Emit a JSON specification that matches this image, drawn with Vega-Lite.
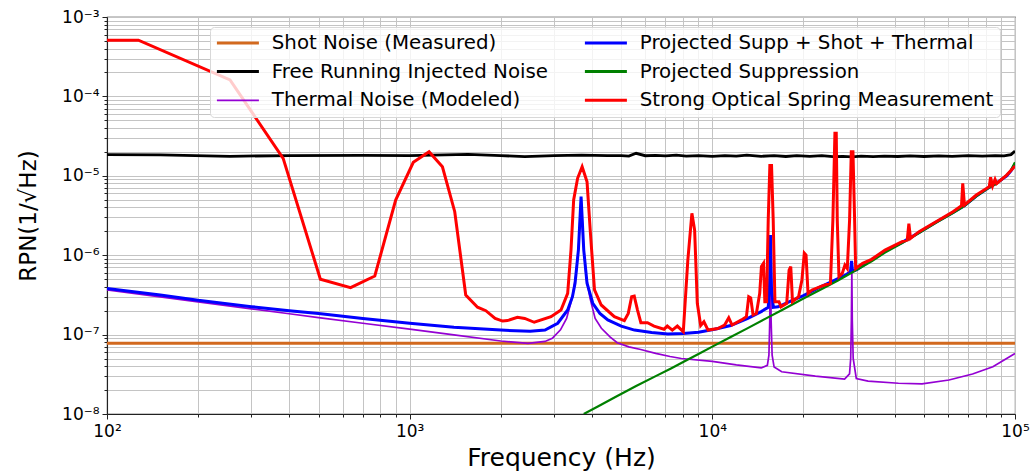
{
  "$schema": "https://vega.github.io/schema/vega-lite/v6.json",
  "width": 908,
  "height": 397,
  "autosize": {"type": "none"},
  "padding": {"left": 107, "top": 17, "right": 17, "bottom": 59},
  "background": "white",
  "config": {"font": "DejaVu Sans", "view": {"stroke": "#222", "strokeWidth": 1.1}},
  "data": {"values": [
    {"s": "Shot Noise (Measured)", "f": 100, "v": 7.8e-8},
    {"s": "Shot Noise (Measured)", "f": 100000, "v": 7.8e-8},

    {"s": "Free Running Injected Noise", "f": 100, "v": 1.85e-5},
    {"s": "Free Running Injected Noise", "f": 150, "v": 1.83e-5},
    {"s": "Free Running Injected Noise", "f": 255, "v": 1.76e-5},
    {"s": "Free Running Injected Noise", "f": 400, "v": 1.80e-5},
    {"s": "Free Running Injected Noise", "f": 700, "v": 1.81e-5},
    {"s": "Free Running Injected Noise", "f": 1000, "v": 1.79e-5},
    {"s": "Free Running Injected Noise", "f": 1560, "v": 1.86e-5},
    {"s": "Free Running Injected Noise", "f": 2000, "v": 1.80e-5},
    {"s": "Free Running Injected Noise", "f": 2400, "v": 1.74e-5},
    {"s": "Free Running Injected Noise", "f": 3000, "v": 1.80e-5},
    {"s": "Free Running Injected Noise", "f": 3700, "v": 1.82e-5},
    {"s": "Free Running Injected Noise", "f": 4500, "v": 1.79e-5},
    {"s": "Free Running Injected Noise", "f": 5000, "v": 1.80e-5},
    {"s": "Free Running Injected Noise", "f": 5300, "v": 1.77e-5},
    {"s": "Free Running Injected Noise", "f": 5600, "v": 1.92e-5},
    {"s": "Free Running Injected Noise", "f": 6000, "v": 1.79e-5},
    {"s": "Free Running Injected Noise", "f": 6500, "v": 1.81e-5},
    {"s": "Free Running Injected Noise", "f": 7000, "v": 1.78e-5},
    {"s": "Free Running Injected Noise", "f": 7600, "v": 1.82e-5},
    {"s": "Free Running Injected Noise", "f": 8200, "v": 1.77e-5},
    {"s": "Free Running Injected Noise", "f": 9000, "v": 1.80e-5},
    {"s": "Free Running Injected Noise", "f": 10000, "v": 1.76e-5},
    {"s": "Free Running Injected Noise", "f": 11000, "v": 1.80e-5},
    {"s": "Free Running Injected Noise", "f": 12000, "v": 1.77e-5},
    {"s": "Free Running Injected Noise", "f": 13000, "v": 1.82e-5},
    {"s": "Free Running Injected Noise", "f": 14500, "v": 1.76e-5},
    {"s": "Free Running Injected Noise", "f": 16000, "v": 1.80e-5},
    {"s": "Free Running Injected Noise", "f": 17500, "v": 1.75e-5},
    {"s": "Free Running Injected Noise", "f": 19000, "v": 1.79e-5},
    {"s": "Free Running Injected Noise", "f": 21000, "v": 1.76e-5},
    {"s": "Free Running Injected Noise", "f": 23000, "v": 1.79e-5},
    {"s": "Free Running Injected Noise", "f": 25000, "v": 1.74e-5},
    {"s": "Free Running Injected Noise", "f": 27000, "v": 1.76e-5},
    {"s": "Free Running Injected Noise", "f": 29000, "v": 1.73e-5},
    {"s": "Free Running Injected Noise", "f": 31000, "v": 1.77e-5},
    {"s": "Free Running Injected Noise", "f": 34000, "v": 1.74e-5},
    {"s": "Free Running Injected Noise", "f": 37000, "v": 1.77e-5},
    {"s": "Free Running Injected Noise", "f": 41000, "v": 1.75e-5},
    {"s": "Free Running Injected Noise", "f": 45000, "v": 1.78e-5},
    {"s": "Free Running Injected Noise", "f": 50000, "v": 1.75e-5},
    {"s": "Free Running Injected Noise", "f": 56000, "v": 1.78e-5},
    {"s": "Free Running Injected Noise", "f": 62000, "v": 1.76e-5},
    {"s": "Free Running Injected Noise", "f": 70000, "v": 1.79e-5},
    {"s": "Free Running Injected Noise", "f": 78000, "v": 1.77e-5},
    {"s": "Free Running Injected Noise", "f": 86000, "v": 1.80e-5},
    {"s": "Free Running Injected Noise", "f": 92000, "v": 1.78e-5},
    {"s": "Free Running Injected Noise", "f": 97000, "v": 1.85e-5},
    {"s": "Free Running Injected Noise", "f": 100000, "v": 2.05e-5},

    {"s": "Thermal Noise (Modeled)", "f": 100, "v": 3.65e-7},
    {"s": "Thermal Noise (Modeled)", "f": 150, "v": 2.98e-7},
    {"s": "Thermal Noise (Modeled)", "f": 200, "v": 2.58e-7},
    {"s": "Thermal Noise (Modeled)", "f": 300, "v": 2.11e-7},
    {"s": "Thermal Noise (Modeled)", "f": 400, "v": 1.83e-7},
    {"s": "Thermal Noise (Modeled)", "f": 500, "v": 1.64e-7},
    {"s": "Thermal Noise (Modeled)", "f": 700, "v": 1.39e-7},
    {"s": "Thermal Noise (Modeled)", "f": 1000, "v": 1.17e-7},
    {"s": "Thermal Noise (Modeled)", "f": 1400, "v": 9.9e-8},
    {"s": "Thermal Noise (Modeled)", "f": 2000, "v": 8.3e-8},
    {"s": "Thermal Noise (Modeled)", "f": 2460, "v": 7.75e-8},
    {"s": "Thermal Noise (Modeled)", "f": 2800, "v": 8.2e-8},
    {"s": "Thermal Noise (Modeled)", "f": 2960, "v": 9.0e-8},
    {"s": "Thermal Noise (Modeled)", "f": 3150, "v": 1.15e-7},
    {"s": "Thermal Noise (Modeled)", "f": 3300, "v": 1.6e-7},
    {"s": "Thermal Noise (Modeled)", "f": 3450, "v": 3.0e-7},
    {"s": "Thermal Noise (Modeled)", "f": 3550, "v": 6.0e-7},
    {"s": "Thermal Noise (Modeled)", "f": 3620, "v": 1.4e-6},
    {"s": "Thermal Noise (Modeled)", "f": 3684, "v": 5.4e-6},
    {"s": "Thermal Noise (Modeled)", "f": 3750, "v": 1.4e-6},
    {"s": "Thermal Noise (Modeled)", "f": 3830, "v": 5.2e-7},
    {"s": "Thermal Noise (Modeled)", "f": 3950, "v": 2.8e-7},
    {"s": "Thermal Noise (Modeled)", "f": 4100, "v": 1.6e-7},
    {"s": "Thermal Noise (Modeled)", "f": 4300, "v": 1.2e-7},
    {"s": "Thermal Noise (Modeled)", "f": 4600, "v": 9.3e-8},
    {"s": "Thermal Noise (Modeled)", "f": 4850, "v": 7.9e-8},
    {"s": "Thermal Noise (Modeled)", "f": 5300, "v": 7.0e-8},
    {"s": "Thermal Noise (Modeled)", "f": 5800, "v": 6.5e-8},
    {"s": "Thermal Noise (Modeled)", "f": 6500, "v": 5.8e-8},
    {"s": "Thermal Noise (Modeled)", "f": 7250, "v": 5.3e-8},
    {"s": "Thermal Noise (Modeled)", "f": 7900, "v": 5.0e-8},
    {"s": "Thermal Noise (Modeled)", "f": 10000, "v": 4.6e-8},
    {"s": "Thermal Noise (Modeled)", "f": 12000, "v": 4.15e-8},
    {"s": "Thermal Noise (Modeled)", "f": 14500, "v": 3.8e-8},
    {"s": "Thermal Noise (Modeled)", "f": 15200, "v": 4.1e-8},
    {"s": "Thermal Noise (Modeled)", "f": 15380, "v": 5.5e-8},
    {"s": "Thermal Noise (Modeled)", "f": 15480, "v": 1.5e-7},
    {"s": "Thermal Noise (Modeled)", "f": 15560, "v": 1.7e-6},
    {"s": "Thermal Noise (Modeled)", "f": 15640, "v": 1.5e-7},
    {"s": "Thermal Noise (Modeled)", "f": 15760, "v": 5.5e-8},
    {"s": "Thermal Noise (Modeled)", "f": 16000, "v": 3.9e-8},
    {"s": "Thermal Noise (Modeled)", "f": 16950, "v": 3.4e-8},
    {"s": "Thermal Noise (Modeled)", "f": 21900, "v": 3.0e-8},
    {"s": "Thermal Noise (Modeled)", "f": 27350, "v": 2.76e-8},
    {"s": "Thermal Noise (Modeled)", "f": 28400, "v": 3.2e-8},
    {"s": "Thermal Noise (Modeled)", "f": 28650, "v": 5.0e-8},
    {"s": "Thermal Noise (Modeled)", "f": 28800, "v": 1.5e-7},
    {"s": "Thermal Noise (Modeled)", "f": 28900, "v": 6.5e-7},
    {"s": "Thermal Noise (Modeled)", "f": 29000, "v": 1.5e-7},
    {"s": "Thermal Noise (Modeled)", "f": 29200, "v": 5.0e-8},
    {"s": "Thermal Noise (Modeled)", "f": 29900, "v": 2.8e-8},
    {"s": "Thermal Noise (Modeled)", "f": 32700, "v": 2.6e-8},
    {"s": "Thermal Noise (Modeled)", "f": 41200, "v": 2.44e-8},
    {"s": "Thermal Noise (Modeled)", "f": 49300, "v": 2.4e-8},
    {"s": "Thermal Noise (Modeled)", "f": 60500, "v": 2.68e-8},
    {"s": "Thermal Noise (Modeled)", "f": 72400, "v": 3.19e-8},
    {"s": "Thermal Noise (Modeled)", "f": 84500, "v": 3.94e-8},
    {"s": "Thermal Noise (Modeled)", "f": 100000, "v": 5.8e-8},

    {"s": "Projected Supp + Shot + Thermal", "f": 100, "v": 3.8e-7},
    {"s": "Projected Supp + Shot + Thermal", "f": 150, "v": 3.15e-7},
    {"s": "Projected Supp + Shot + Thermal", "f": 200, "v": 2.7e-7},
    {"s": "Projected Supp + Shot + Thermal", "f": 300, "v": 2.25e-7},
    {"s": "Projected Supp + Shot + Thermal", "f": 400, "v": 2.0e-7},
    {"s": "Projected Supp + Shot + Thermal", "f": 500, "v": 1.85e-7},
    {"s": "Projected Supp + Shot + Thermal", "f": 700, "v": 1.6e-7},
    {"s": "Projected Supp + Shot + Thermal", "f": 1000, "v": 1.39e-7},
    {"s": "Projected Supp + Shot + Thermal", "f": 1400, "v": 1.24e-7},
    {"s": "Projected Supp + Shot + Thermal", "f": 2000, "v": 1.14e-7},
    {"s": "Projected Supp + Shot + Thermal", "f": 2500, "v": 1.1e-7},
    {"s": "Projected Supp + Shot + Thermal", "f": 2800, "v": 1.14e-7},
    {"s": "Projected Supp + Shot + Thermal", "f": 3084, "v": 1.39e-7},
    {"s": "Projected Supp + Shot + Thermal", "f": 3327, "v": 2.04e-7},
    {"s": "Projected Supp + Shot + Thermal", "f": 3450, "v": 3.0e-7},
    {"s": "Projected Supp + Shot + Thermal", "f": 3519, "v": 4.43e-7},
    {"s": "Projected Supp + Shot + Thermal", "f": 3610, "v": 1.16e-6},
    {"s": "Projected Supp + Shot + Thermal", "f": 3684, "v": 5.46e-6},
    {"s": "Projected Supp + Shot + Thermal", "f": 3760, "v": 1.16e-6},
    {"s": "Projected Supp + Shot + Thermal", "f": 3855, "v": 4.43e-7},
    {"s": "Projected Supp + Shot + Thermal", "f": 4027, "v": 2.48e-7},
    {"s": "Projected Supp + Shot + Thermal", "f": 4250, "v": 1.85e-7},
    {"s": "Projected Supp + Shot + Thermal", "f": 4515, "v": 1.53e-7},
    {"s": "Projected Supp + Shot + Thermal", "f": 5000, "v": 1.28e-7},
    {"s": "Projected Supp + Shot + Thermal", "f": 5530, "v": 1.14e-7},
    {"s": "Projected Supp + Shot + Thermal", "f": 6300, "v": 1.06e-7},
    {"s": "Projected Supp + Shot + Thermal", "f": 7130, "v": 1.02e-7},
    {"s": "Projected Supp + Shot + Thermal", "f": 8000, "v": 1.03e-7},
    {"s": "Projected Supp + Shot + Thermal", "f": 9000, "v": 1.07e-7},
    {"s": "Projected Supp + Shot + Thermal", "f": 10180, "v": 1.17e-7},
    {"s": "Projected Supp + Shot + Thermal", "f": 11500, "v": 1.3e-7},
    {"s": "Projected Supp + Shot + Thermal", "f": 13100, "v": 1.6e-7},
    {"s": "Projected Supp + Shot + Thermal", "f": 14500, "v": 1.95e-7},
    {"s": "Projected Supp + Shot + Thermal", "f": 15300, "v": 2.2e-7},
    {"s": "Projected Supp + Shot + Thermal", "f": 15450, "v": 4.0e-7},
    {"s": "Projected Supp + Shot + Thermal", "f": 15560, "v": 1.8e-6},
    {"s": "Projected Supp + Shot + Thermal", "f": 15680, "v": 4.0e-7},
    {"s": "Projected Supp + Shot + Thermal", "f": 15900, "v": 2.2e-7},
    {"s": "Projected Supp + Shot + Thermal", "f": 16490, "v": 2.24e-7},
    {"s": "Projected Supp + Shot + Thermal", "f": 18000, "v": 2.6e-7},
    {"s": "Projected Supp + Shot + Thermal", "f": 20000, "v": 3.1e-7},
    {"s": "Projected Supp + Shot + Thermal", "f": 22500, "v": 3.9e-7},
    {"s": "Projected Supp + Shot + Thermal", "f": 25000, "v": 4.7e-7},
    {"s": "Projected Supp + Shot + Thermal", "f": 27500, "v": 5.6e-7},
    {"s": "Projected Supp + Shot + Thermal", "f": 28600, "v": 6.2e-7},
    {"s": "Projected Supp + Shot + Thermal", "f": 28850, "v": 8.5e-7},
    {"s": "Projected Supp + Shot + Thermal", "f": 29050, "v": 6.3e-7},
    {"s": "Projected Supp + Shot + Thermal", "f": 30000, "v": 6.6e-7},
    {"s": "Projected Supp + Shot + Thermal", "f": 33600, "v": 8.7e-7},
    {"s": "Projected Supp + Shot + Thermal", "f": 37200, "v": 1.12e-6},
    {"s": "Projected Supp + Shot + Thermal", "f": 42400, "v": 1.45e-6},
    {"s": "Projected Supp + Shot + Thermal", "f": 48200, "v": 1.93e-6},
    {"s": "Projected Supp + Shot + Thermal", "f": 54800, "v": 2.6e-6},
    {"s": "Projected Supp + Shot + Thermal", "f": 62400, "v": 3.45e-6},
    {"s": "Projected Supp + Shot + Thermal", "f": 68000, "v": 4.2e-6},
    {"s": "Projected Supp + Shot + Thermal", "f": 74500, "v": 5.55e-6},
    {"s": "Projected Supp + Shot + Thermal", "f": 82200, "v": 7.15e-6},
    {"s": "Projected Supp + Shot + Thermal", "f": 87000, "v": 8.1e-6},
    {"s": "Projected Supp + Shot + Thermal", "f": 93900, "v": 1.0e-5},
    {"s": "Projected Supp + Shot + Thermal", "f": 97000, "v": 1.15e-5},
    {"s": "Projected Supp + Shot + Thermal", "f": 100000, "v": 1.4e-5},

    {"s": "Projected Suppression", "f": 3760, "v": 1.0e-8},
    {"s": "Projected Suppression", "f": 4200, "v": 1.25e-8},
    {"s": "Projected Suppression", "f": 4800, "v": 1.65e-8},
    {"s": "Projected Suppression", "f": 5600, "v": 2.25e-8},
    {"s": "Projected Suppression", "f": 6500, "v": 3.0e-8},
    {"s": "Projected Suppression", "f": 7300, "v": 3.75e-8},
    {"s": "Projected Suppression", "f": 8040, "v": 4.55e-8},
    {"s": "Projected Suppression", "f": 9000, "v": 5.7e-8},
    {"s": "Projected Suppression", "f": 10000, "v": 7.06e-8},
    {"s": "Projected Suppression", "f": 11500, "v": 9.3e-8},
    {"s": "Projected Suppression", "f": 13000, "v": 1.19e-7},
    {"s": "Projected Suppression", "f": 15000, "v": 1.59e-7},
    {"s": "Projected Suppression", "f": 17000, "v": 2.04e-7},
    {"s": "Projected Suppression", "f": 20000, "v": 2.85e-7},
    {"s": "Projected Suppression", "f": 23000, "v": 3.75e-7},
    {"s": "Projected Suppression", "f": 26000, "v": 4.8e-7},
    {"s": "Projected Suppression", "f": 28840, "v": 6.0e-7},
    {"s": "Projected Suppression", "f": 33600, "v": 8.4e-7},
    {"s": "Projected Suppression", "f": 37200, "v": 1.08e-6},
    {"s": "Projected Suppression", "f": 42400, "v": 1.42e-6},
    {"s": "Projected Suppression", "f": 48200, "v": 1.9e-6},
    {"s": "Projected Suppression", "f": 54800, "v": 2.55e-6},
    {"s": "Projected Suppression", "f": 62400, "v": 3.4e-6},
    {"s": "Projected Suppression", "f": 68000, "v": 4.15e-6},
    {"s": "Projected Suppression", "f": 74500, "v": 5.5e-6},
    {"s": "Projected Suppression", "f": 82200, "v": 7.1e-6},
    {"s": "Projected Suppression", "f": 87000, "v": 8.0e-6},
    {"s": "Projected Suppression", "f": 93900, "v": 1.02e-5},
    {"s": "Projected Suppression", "f": 97000, "v": 1.18e-5},
    {"s": "Projected Suppression", "f": 100000, "v": 1.48e-5},

    {"s": "Strong Optical Spring Measurement", "f": 100, "v": 5.1e-4},
    {"s": "Strong Optical Spring Measurement", "f": 127, "v": 5.1e-4},
    {"s": "Strong Optical Spring Measurement", "f": 255, "v": 1.61e-4},
    {"s": "Strong Optical Spring Measurement", "f": 382, "v": 1.66e-5},
    {"s": "Strong Optical Spring Measurement", "f": 507, "v": 4.98e-7},
    {"s": "Strong Optical Spring Measurement", "f": 638, "v": 3.9e-7},
    {"s": "Strong Optical Spring Measurement", "f": 767, "v": 5.47e-7},
    {"s": "Strong Optical Spring Measurement", "f": 899, "v": 4.95e-6},
    {"s": "Strong Optical Spring Measurement", "f": 1028, "v": 1.48e-5},
    {"s": "Strong Optical Spring Measurement", "f": 1159, "v": 2.01e-5},
    {"s": "Strong Optical Spring Measurement", "f": 1283, "v": 1.30e-5},
    {"s": "Strong Optical Spring Measurement", "f": 1409, "v": 3.53e-6},
    {"s": "Strong Optical Spring Measurement", "f": 1532, "v": 3.15e-7},
    {"s": "Strong Optical Spring Measurement", "f": 1676, "v": 2.21e-7},
    {"s": "Strong Optical Spring Measurement", "f": 1785, "v": 2.0e-7},
    {"s": "Strong Optical Spring Measurement", "f": 1916, "v": 1.6e-7},
    {"s": "Strong Optical Spring Measurement", "f": 2028, "v": 1.48e-7},
    {"s": "Strong Optical Spring Measurement", "f": 2104, "v": 1.5e-7},
    {"s": "Strong Optical Spring Measurement", "f": 2270, "v": 1.65e-7},
    {"s": "Strong Optical Spring Measurement", "f": 2400, "v": 1.6e-7},
    {"s": "Strong Optical Spring Measurement", "f": 2580, "v": 1.43e-7},
    {"s": "Strong Optical Spring Measurement", "f": 2931, "v": 1.68e-7},
    {"s": "Strong Optical Spring Measurement", "f": 3162, "v": 2.04e-7},
    {"s": "Strong Optical Spring Measurement", "f": 3327, "v": 3.31e-7},
    {"s": "Strong Optical Spring Measurement", "f": 3412, "v": 1.16e-6},
    {"s": "Strong Optical Spring Measurement", "f": 3482, "v": 4.96e-6},
    {"s": "Strong Optical Spring Measurement", "f": 3588, "v": 9.3e-6},
    {"s": "Strong Optical Spring Measurement", "f": 3714, "v": 1.3e-5},
    {"s": "Strong Optical Spring Measurement", "f": 3855, "v": 8.4e-6},
    {"s": "Strong Optical Spring Measurement", "f": 3956, "v": 1.89e-6},
    {"s": "Strong Optical Spring Measurement", "f": 4080, "v": 3.65e-7},
    {"s": "Strong Optical Spring Measurement", "f": 4294, "v": 2.36e-7},
    {"s": "Strong Optical Spring Measurement", "f": 4745, "v": 1.68e-7},
    {"s": "Strong Optical Spring Measurement", "f": 5120, "v": 1.5e-7},
    {"s": "Strong Optical Spring Measurement", "f": 5275, "v": 1.85e-7},
    {"s": "Strong Optical Spring Measurement", "f": 5413, "v": 3.0e-7},
    {"s": "Strong Optical Spring Measurement", "f": 5520, "v": 3.05e-7},
    {"s": "Strong Optical Spring Measurement", "f": 5660, "v": 2.04e-7},
    {"s": "Strong Optical Spring Measurement", "f": 5806, "v": 1.41e-7},
    {"s": "Strong Optical Spring Measurement", "f": 6106, "v": 1.41e-7},
    {"s": "Strong Optical Spring Measurement", "f": 6417, "v": 1.28e-7},
    {"s": "Strong Optical Spring Measurement", "f": 6924, "v": 1.17e-7},
    {"s": "Strong Optical Spring Measurement", "f": 7100, "v": 1.28e-7},
    {"s": "Strong Optical Spring Measurement", "f": 7376, "v": 1.14e-7},
    {"s": "Strong Optical Spring Measurement", "f": 7663, "v": 1.28e-7},
    {"s": "Strong Optical Spring Measurement", "f": 8018, "v": 1.09e-7},
    {"s": "Strong Optical Spring Measurement", "f": 8300, "v": 8.7e-7},
    {"s": "Strong Optical Spring Measurement", "f": 8560, "v": 3.37e-6},
    {"s": "Strong Optical Spring Measurement", "f": 8740, "v": 2.07e-6},
    {"s": "Strong Optical Spring Measurement", "f": 8920, "v": 2.48e-7},
    {"s": "Strong Optical Spring Measurement", "f": 9150, "v": 1.3e-7},
    {"s": "Strong Optical Spring Measurement", "f": 9380, "v": 1.45e-7},
    {"s": "Strong Optical Spring Measurement", "f": 9680, "v": 1.14e-7},
    {"s": "Strong Optical Spring Measurement", "f": 10430, "v": 1.19e-7},
    {"s": "Strong Optical Spring Measurement", "f": 10980, "v": 1.32e-7},
    {"s": "Strong Optical Spring Measurement", "f": 11330, "v": 1.63e-7},
    {"s": "Strong Optical Spring Measurement", "f": 11620, "v": 1.32e-7},
    {"s": "Strong Optical Spring Measurement", "f": 12480, "v": 1.53e-7},
    {"s": "Strong Optical Spring Measurement", "f": 12960, "v": 1.68e-7},
    {"s": "Strong Optical Spring Measurement", "f": 13190, "v": 3.0e-7},
    {"s": "Strong Optical Spring Measurement", "f": 13390, "v": 2.9e-7},
    {"s": "Strong Optical Spring Measurement", "f": 13630, "v": 1.77e-7},
    {"s": "Strong Optical Spring Measurement", "f": 13980, "v": 1.85e-7},
    {"s": "Strong Optical Spring Measurement", "f": 14340, "v": 3.31e-7},
    {"s": "Strong Optical Spring Measurement", "f": 14530, "v": 7.2e-7},
    {"s": "Strong Optical Spring Measurement", "f": 14760, "v": 7.9e-7},
    {"s": "Strong Optical Spring Measurement", "f": 14910, "v": 2.6e-7},
    {"s": "Strong Optical Spring Measurement", "f": 15110, "v": 2.6e-7},
    {"s": "Strong Optical Spring Measurement", "f": 15300, "v": 2.77e-6},
    {"s": "Strong Optical Spring Measurement", "f": 15490, "v": 1.35e-5},
    {"s": "Strong Optical Spring Measurement", "f": 15690, "v": 1.35e-5},
    {"s": "Strong Optical Spring Measurement", "f": 15890, "v": 2.77e-6},
    {"s": "Strong Optical Spring Measurement", "f": 16100, "v": 2.6e-7},
    {"s": "Strong Optical Spring Measurement", "f": 16600, "v": 2.6e-7},
    {"s": "Strong Optical Spring Measurement", "f": 16860, "v": 2.24e-7},
    {"s": "Strong Optical Spring Measurement", "f": 17610, "v": 2.48e-7},
    {"s": "Strong Optical Spring Measurement", "f": 17930, "v": 6.5e-7},
    {"s": "Strong Optical Spring Measurement", "f": 18160, "v": 7.2e-7},
    {"s": "Strong Optical Spring Measurement", "f": 18400, "v": 2.6e-7},
    {"s": "Strong Optical Spring Measurement", "f": 19270, "v": 3.0e-7},
    {"s": "Strong Optical Spring Measurement", "f": 19770, "v": 4.88e-7},
    {"s": "Strong Optical Spring Measurement", "f": 20130, "v": 1.06e-6},
    {"s": "Strong Optical Spring Measurement", "f": 20400, "v": 1.0e-6},
    {"s": "Strong Optical Spring Measurement", "f": 20710, "v": 3.31e-7},
    {"s": "Strong Optical Spring Measurement", "f": 21350, "v": 3.65e-7},
    {"s": "Strong Optical Spring Measurement", "f": 23070, "v": 4.1e-7},
    {"s": "Strong Optical Spring Measurement", "f": 24560, "v": 4.43e-7},
    {"s": "Strong Optical Spring Measurement", "f": 25020, "v": 2.77e-6},
    {"s": "Strong Optical Spring Measurement", "f": 25410, "v": 3.43e-5},
    {"s": "Strong Optical Spring Measurement", "f": 25670, "v": 3.43e-5},
    {"s": "Strong Optical Spring Measurement", "f": 25870, "v": 2.77e-6},
    {"s": "Strong Optical Spring Measurement", "f": 26200, "v": 5.37e-7},
    {"s": "Strong Optical Spring Measurement", "f": 26870, "v": 5.9e-7},
    {"s": "Strong Optical Spring Measurement", "f": 27420, "v": 7.5e-7},
    {"s": "Strong Optical Spring Measurement", "f": 27920, "v": 6.8e-7},
    {"s": "Strong Optical Spring Measurement", "f": 28410, "v": 2.77e-6},
    {"s": "Strong Optical Spring Measurement", "f": 28780, "v": 2.01e-5},
    {"s": "Strong Optical Spring Measurement", "f": 29150, "v": 2.01e-5},
    {"s": "Strong Optical Spring Measurement", "f": 29520, "v": 2.77e-6},
    {"s": "Strong Optical Spring Measurement", "f": 29750, "v": 6.8e-7},
    {"s": "Strong Optical Spring Measurement", "f": 31380, "v": 7.9e-7},
    {"s": "Strong Optical Spring Measurement", "f": 33590, "v": 8.87e-7},
    {"s": "Strong Optical Spring Measurement", "f": 37200, "v": 1.16e-6},
    {"s": "Strong Optical Spring Measurement", "f": 42370, "v": 1.48e-6},
    {"s": "Strong Optical Spring Measurement", "f": 44050, "v": 1.55e-6},
    {"s": "Strong Optical Spring Measurement", "f": 44600, "v": 2.5e-6},
    {"s": "Strong Optical Spring Measurement", "f": 45160, "v": 1.63e-6},
    {"s": "Strong Optical Spring Measurement", "f": 48190, "v": 1.98e-6},
    {"s": "Strong Optical Spring Measurement", "f": 54820, "v": 2.64e-6},
    {"s": "Strong Optical Spring Measurement", "f": 62370, "v": 3.53e-6},
    {"s": "Strong Optical Spring Measurement", "f": 66560, "v": 4.2e-6},
    {"s": "Strong Optical Spring Measurement", "f": 67200, "v": 8.05e-6},
    {"s": "Strong Optical Spring Measurement", "f": 68070, "v": 4.3e-6},
    {"s": "Strong Optical Spring Measurement", "f": 74500, "v": 5.73e-6},
    {"s": "Strong Optical Spring Measurement", "f": 82220, "v": 7.3e-6},
    {"s": "Strong Optical Spring Measurement", "f": 83050, "v": 9.57e-6},
    {"s": "Strong Optical Spring Measurement", "f": 84330, "v": 7.45e-6},
    {"s": "Strong Optical Spring Measurement", "f": 85920, "v": 9.0e-6},
    {"s": "Strong Optical Spring Measurement", "f": 86990, "v": 8.0e-6},
    {"s": "Strong Optical Spring Measurement", "f": 93870, "v": 1.02e-5},
    {"s": "Strong Optical Spring Measurement", "f": 100000, "v": 1.33e-5}
  ]},
  "encoding": {
    "x": {
      "field": "f", "type": "quantitative",
      "scale": {"type": "log", "domain": [100, 100000], "nice": false},
      "axis": {
        "values": [100,200,300,400,500,600,700,800,900,1000,2000,3000,4000,5000,6000,7000,8000,9000,10000,20000,30000,40000,50000,60000,70000,80000,90000,100000],
        "labelExpr": "abs(log(datum.value)/LN10 - 2) < 0.001 ? '10²' : abs(log(datum.value)/LN10 - 3) < 0.001 ? '10³' : abs(log(datum.value)/LN10 - 4) < 0.001 ? '10⁴' : abs(log(datum.value)/LN10 - 5) < 0.001 ? '10⁵' : ''",
        "title": "Frequency (Hz)",
        "titleFontSize": 25, "titleFontWeight": "normal", "titleColor": "#000",
        "titleX": 454, "titleY": 51, "titleAlign": "center", "titleBaseline": "alphabetic",
        "labelFontSize": 17, "labelColor": "#000", "labelPadding": 4,
        "labelFlush": false, "labelOverlap": false, "labelBound": false,
        "tickSize": {"condition": {"test": "abs(log(datum.value)/LN10 - round(log(datum.value)/LN10)) < 0.001", "value": 5}, "value": 3},
        "tickColor": "#222", "tickWidth": 1,
        "grid": true, "gridColor": "#c4c4c4", "gridWidth": 1,
        "domainColor": "#222", "domainWidth": 1.1
      }
    },
    "y": {
      "field": "v", "type": "quantitative",
      "scale": {"type": "log", "domain": [1e-8, 1e-3], "nice": false},
      "axis": {
        "values": [1e-8,2e-8,3e-8,4e-8,5e-8,6e-8,7e-8,8e-8,9e-8,1e-7,2e-7,3e-7,4e-7,5e-7,6e-7,7e-7,8e-7,9e-7,1e-6,2e-6,3e-6,4e-6,5e-6,6e-6,7e-6,8e-6,9e-6,1e-5,2e-5,3e-5,4e-5,5e-5,6e-5,7e-5,8e-5,9e-5,1e-4,2e-4,3e-4,4e-4,5e-4,6e-4,7e-4,8e-4,9e-4,1e-3],
        "labelExpr": "abs(log(datum.value)/LN10 + 3) < 0.001 ? '10⁻³' : abs(log(datum.value)/LN10 + 4) < 0.001 ? '10⁻⁴' : abs(log(datum.value)/LN10 + 5) < 0.001 ? '10⁻⁵' : abs(log(datum.value)/LN10 + 6) < 0.001 ? '10⁻⁶' : abs(log(datum.value)/LN10 + 7) < 0.001 ? '10⁻⁷' : abs(log(datum.value)/LN10 + 8) < 0.001 ? '10⁻⁸' : ''",
        "title": "RPN(1/√Hz)",
        "titleFontSize": 23, "titleFontWeight": "normal", "titleColor": "#000",
        "titleX": -79, "titleY": 198.5, "titleAngle": -90, "titleAlign": "center", "titleBaseline": "middle",
        "labelFontSize": 17, "labelColor": "#000", "labelPadding": 3,
        "labelOverlap": false, "labelBound": false, "labelFlush": false,
        "tickSize": {"condition": {"test": "abs(log(datum.value)/LN10 - round(log(datum.value)/LN10)) < 0.001", "value": 5}, "value": 3},
        "tickColor": "#222", "tickWidth": 1,
        "grid": true, "gridColor": "#c4c4c4", "gridWidth": 1,
        "domainColor": "#222", "domainWidth": 1.1
      }
    },
    "color": {
      "field": "s", "type": "nominal",
      "scale": {
        "domain": ["Shot Noise (Measured)", "Free Running Injected Noise", "Thermal Noise (Modeled)", "Projected Supp + Shot + Thermal", "Projected Suppression", "Strong Optical Spring Measurement"],
        "range": ["#d2691e", "#000000", "#9400d3", "#0000ff", "#008000", "#ff0000"]
      },
      "legend": {
        "title": null, "orient": "none", "legendX": 103, "legendY": 10,
        "direction": "vertical", "columns": 2, "columnPadding": 30, "rowPadding": 7.7,
        "symbolType": "stroke", "symbolSize": 1764, "symbolStrokeWidth": 3, "symbolOffset": 12,
        "labelFontSize": 19.8, "labelColor": "#000", "labelOffset": 24, "labelLimit": 600,
        "fillColor": "rgba(255,255,255,0.8)", "strokeColor": "#d8d8d8", "cornerRadius": 4, "padding": 6,
        "encode": {"symbols": {"update": {"strokeWidth": {"signal": "datum.value === 'Thermal Noise (Modeled)' ? 1.7 : 3"}}}}
      }
    }
  },
  "layer": [
    {"transform": [{"filter": "datum.s === 'Shot Noise (Measured)'"}], "mark": {"type": "line", "strokeWidth": 3, "clip": true}},
    {"transform": [{"filter": "datum.s === 'Free Running Injected Noise'"}], "mark": {"type": "line", "strokeWidth": 2.8, "clip": true}},
    {"transform": [{"filter": "datum.s === 'Thermal Noise (Modeled)'"}], "mark": {"type": "line", "strokeWidth": 1.7, "clip": true}},
    {"transform": [{"filter": "datum.s === 'Projected Supp + Shot + Thermal'"}], "mark": {"type": "line", "strokeWidth": 3, "clip": true}},
    {"transform": [{"filter": "datum.s === 'Projected Suppression'"}], "mark": {"type": "line", "strokeWidth": 2.2, "clip": true}},
    {"transform": [{"filter": "datum.s === 'Strong Optical Spring Measurement'"}], "mark": {"type": "line", "strokeWidth": 3, "clip": true}}
  ]
}
